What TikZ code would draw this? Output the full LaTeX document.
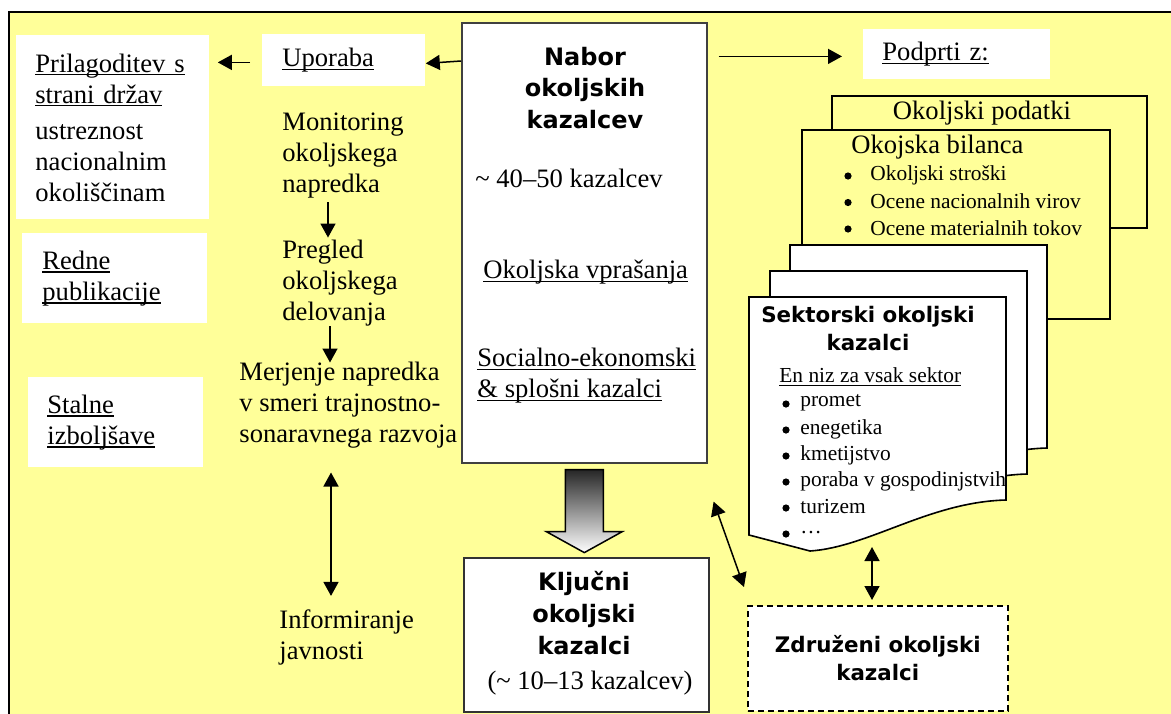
\documentclass[tikz,border=0pt]{standalone}
\usepackage{fontspec}
\setmainfont{Liberation Serif}
\setsansfont{DejaVu Sans}
\usetikzlibrary{arrows.meta,calc}

\definecolor{bgyellow}{RGB}{255,255,153}

\newcommand{\bodyfont}{\fontsize{13.3}{15.5}\selectfont}
\newcommand{\smallfont}{\fontsize{10.7}{13.2}\selectfont}
\newcommand{\headfont}{\fontsize{12}{15.8}\selectfont\sffamily\bfseries}
\newcommand{\subheadfont}{\fontsize{10.7}{14}\selectfont\sffamily\bfseries}
\newcommand{\undl}[1]{\leavevmode\setbox0\hbox{#1}\rlap{\rule[-1.7pt]{\wd0}{0.65pt}}\box0}

\tikzset{
  arr/.style={-{Triangle[length=7pt,width=7.5pt]}, line width=0.75pt},
  dblarr/.style={{Triangle[length=7pt,width=7.5pt]}-{Triangle[length=7pt,width=7.5pt]}, line width=0.75pt},
  wbox/.style={fill=white, anchor=north west, align=left, font=\bodyfont},
  txt/.style={font=\bodyfont, align=left, anchor=west},
  dot/.style={circle, fill=black, minimum size=3.6pt},
  sheetline/.style={draw=black, fill=white, line width=0.8pt}
}

\begin{document}
\begin{tikzpicture}[x=0.5pt, y=-0.5pt, every node/.style={inner sep=0pt}]
    \useasboundingbox (0,0) rectangle (1171,713);
    \clip (0,0) rectangle (1171,713);

    % frame
    \draw[line width=1.2pt, fill=bgyellow] (9,12) rectangle (1190,730);

    % white boxes on the left
    \node[wbox, minimum width=96.5pt, minimum height=92pt, inner xsep=9.5pt, text width=77.5pt] (pril) at (16,35)
        {\undl{Prilagoditev s}\\\undl{strani držav}\\[2.5pt]ustreznost\\nacionalnim\\okoliščinam};
    \node[wbox, minimum width=81.5pt, minimum height=26pt, inner xsep=10pt, text width=61.5pt] (uporaba) at (262,34)
        {\undl{Uporaba}};
    \node[wbox, minimum width=92.5pt, minimum height=45pt, inner xsep=10pt, text width=72.5pt] (redne) at (22,233)
        {\undl{Redne}\\\undl{publikacije}};
    \node[wbox, minimum width=87.5pt, minimum height=45pt, inner xsep=9.5pt, text width=68.5pt] (stalne) at (28,377)
        {\undl{Stalne}\\\undl{izboljšave}};
    \node[wbox, minimum width=93.5pt, minimum height=25pt, inner xsep=9.5pt, text width=74.5pt] (podprti) at (863,29)
        {\undl{Podprti z:}};

    % uses
    \node[txt] (monit) at (282,156) {Monitoring\\okoljskega\\napredka};
    \node[txt] (pregled) at (282,283) {Pregled\\okoljskega\\delovanja};
    \node[txt] (merjenje) at (239,405) {Merjenje napredka\\v smeri trajnostno-\\sonaravnega razvoja};
    \node[txt] (inform) at (279,637) {Informiranje\\javnosti};

    % main set
    \node[draw=black!75, line width=0.8pt, fill=white, minimum width=122.5pt, minimum height=220pt, anchor=north west] (nabor) at (461,22) {};
    \node[font=\headfont, align=center] (nabortitle) at (585,88) {Nabor\\okoljskih\\kazalcev};
    \node[txt] (naborst) at (475,178) {\textasciitilde{} 40--50 kazalcev};
    \node[txt] (vpras) at (483,272) {\undl{Okoljska vprašanja}};
    \node[txt] (socek) at (477,376) {\undl{Socialno-ekonomski}\\\undl{\& splošni kazalci}};

    % key set
    \node[draw=black!80, line width=0.8pt, fill=white, minimum width=122.5pt, minimum height=77pt, anchor=north west] (kljucni) at (463,557) {};
    \node[align=center, font=\fontsize{12}{16}\selectfont\sffamily\bfseries] (kljucnititle) at (584,613) {Ključni\\okoljski\\kazalci};
    \node[font=\bodyfont] (kljucnist) at (590,683) {(\textasciitilde{} 10--13 kazalcev)};

    % block arrow
    \path[draw=black, line width=0.75pt, top color=black!85, bottom color=white]
        ([shift={(-19,6)}]nabor.south) -- ++(38,0) -- ++(0,62) -- ++(19,0) -- ++(-38,21) -- ++(-38,-21) -- ++(19,0) -- cycle;

    % supporting data
    \node[draw, line width=0.75pt, fill=bgyellow, minimum width=157.5pt, minimum height=66pt, anchor=north west] (podatki) at (831,95) {};
    \node[font=\bodyfont] (podatkitxt) at (982,113) {Okoljski podatki};
    \node[draw, line width=0.75pt, fill=bgyellow, minimum width=154pt, minimum height=94.5pt, anchor=north west] (bilanca) at (801,129) {};
    \node[txt] (bilancatxt) at (851,147) {Okojska bilanca};
    \foreach \itm [count=\i] in {Okoljski stroški, Ocene nacionalnih virov, Ocene materialnih tokov} {
        \node[dot] (bilb\i) at (848,149.5+26.5*\i) {};
        \node[font=\smallfont, anchor=west] (bil\i) at (870,148.5+26.5*\i) {\itm};
    }

    % sector sheets
    \foreach \dx/\dy in {41/-52, 21/-26, 0/0}
        \draw[sheetline, shift={(749+\dx,297+\dy)}]
            (0,0) -- (257,0) -- (257,203) .. controls (180,205) and (120,250) .. (61,254) -- (0,238) -- cycle;
    \node[font=\subheadfont, align=center] (sektitle) at (868,329) {Sektorski okoljski\\kazalci};
    \node[font=\smallfont, anchor=west] (enniz) at (779,377) {\undl{En niz za vsak sektor}};
    \foreach \itm [count=\i] in {promet, enegetika, kmetijstvo, poraba v gospodinjstvih, turizem, \ldots} {
        \node[dot] (sekb\i) at (786,378+26*\i) {};
        \node[font=\smallfont, anchor=west] (sek\i) at (800,377+26*\i) {\itm};
    }
    \coordinate (sekbot) at (872,547);

    % aggregated
    \node[draw, dash pattern=on 3pt off 2pt, line width=0.75pt, fill=white, minimum width=130pt, minimum height=52.5pt,
          anchor=north west, font=\subheadfont, align=center] (zdr) at (747,605) {Združeni okoljski\\kazalci};

    % arrows
    \coordinate (colA) at (328,0);
    \coordinate (colB) at (331,0);
    \draw[arr] ($(nabor.north west)+(0,39)$) -- ($(uporaba.east)+(0,3)$);
    \draw[arr] ($(uporaba.west)+(-12,2)$) -- ($(pril.east |- uporaba.west)+(8,2)$);
    \draw[arr] ($(nabor.east |- podprti.west)+(11,2)$) -- ($(podprti.west)+(-21,2)$);
    \draw[arr] ($(monit.south -| colA)+(0,3)$) -- ($(pregled.north -| colA)+(0,-2)$);
    \draw[arr] ($(pregled.south -| colB)+(-1,0)$) -- ($(merjenje.north -| colB)+(-1,1)$);
    \draw[dblarr] ($(merjenje.south -| colB)+(0,24)$) -- ($(inform.north -| colB)+(0,-13)$);
    \draw[dblarr] ($(nabor.south east)+(6,38)$) -- ($(zdr.north west)+(-3,-18)$);
    \draw[dblarr] (sekbot) -- ($(zdr.north -| sekbot)+(0,-5)$);
\end{tikzpicture}
\end{document}
